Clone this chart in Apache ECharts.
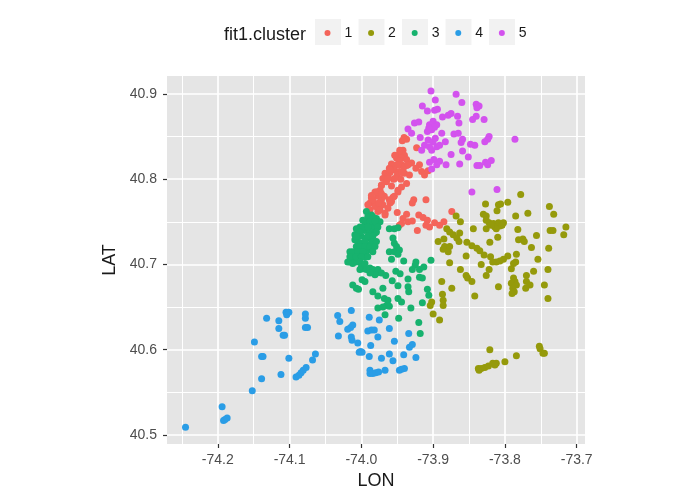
<!DOCTYPE html>
<html><head><meta charset="utf-8">
<style>html,body{margin:0;padding:0;background:#fff}#c{width:695px;height:494px}</style>
<script src="https://cdn.jsdelivr.net/npm/echarts@6/dist/echarts.min.js"></script>
</head><body><div id="c"></div>
<script>
const cluster1 = [[-73.9405,40.849],[-73.937,40.847],[-73.943,40.845],[-73.923,40.837],[-73.942,40.834],[-73.947,40.830],[-73.940,40.828],[-73.951,40.825],[-73.944,40.825],[-73.937,40.823],[-73.958,40.818],[-73.951,40.817],[-73.944,40.817],[-73.937,40.816],[-73.930,40.819],[-73.919,40.817],[-73.924,40.813],[-73.916,40.809],[-73.912,40.805],[-73.907,40.810],[-73.961,40.813],[-73.954,40.811],[-73.947,40.809],[-73.940,40.807],[-73.933,40.805],[-73.967,40.807],[-73.963,40.803],[-73.970,40.801],[-73.965,40.797],[-73.972,40.793],[-73.974,40.787],[-73.981,40.785],[-73.977,40.780],[-73.984,40.774],[-73.988,40.772],[-73.937,40.795],[-73.944,40.791],[-73.949,40.785],[-73.954,40.780],[-73.958,40.774],[-73.950,40.805],[-73.945,40.800],[-73.955,40.800],[-73.960,40.808],[-73.947,40.822],[-73.941,40.814],[-73.9465,40.834],[-73.9535,40.828],[-73.935,40.817],[-73.949,40.817],[-73.960,40.811],[-73.944,40.808],[-73.9535,40.801],[-73.963,40.801],[-73.972,40.793],[-73.958,40.792],[-73.977,40.785],[-73.949,40.787],[-73.956,40.779],[-73.960,40.772],[-73.986,40.778],[-73.972,40.776],[-73.988,40.764],[-73.977,40.762],[-73.967,40.758],[-73.981,40.770],[-73.991,40.770],[-73.974,40.770],[-73.968,40.780],[-73.927,40.776],[-73.929,40.772],[-73.910,40.776],[-73.981,40.768],[-73.974,40.764],[-73.967,40.760],[-73.984,40.776],[-73.970,40.770],[-73.963,40.766],[-73.961,40.776],[-73.979,40.785],[-73.972,40.783],[-73.986,40.781],[-73.976,40.772],[-73.950,40.761],[-73.937,40.759],[-73.942,40.754],[-73.944,40.748],[-73.947,40.746],[-73.935,40.750],[-73.929,40.751],[-73.920,40.758],[-73.914,40.755],[-73.908,40.752],[-73.910,40.746],[-73.905,40.744],[-73.922,40.740],[-73.898,40.749],[-73.891,40.746],[-73.885,40.750],[-73.874,40.762]];
const cluster2 = [[-73.827,40.771],[-73.809,40.770],[-73.806,40.771],[-73.796,40.773],[-73.778,40.782],[-73.811,40.763],[-73.738,40.768],[-73.732,40.759],[-73.785,40.757],[-73.768,40.760],[-73.830,40.759],[-73.826,40.757],[-73.826,40.752],[-73.822,40.749],[-73.816,40.748],[-73.809,40.749],[-73.802,40.749],[-73.807,40.745],[-73.814,40.744],[-73.812,40.742],[-73.826,40.742],[-73.804,40.746],[-73.819,40.746],[-73.844,40.742],[-73.868,40.757],[-73.862,40.750],[-73.881,40.742],[-73.877,40.738],[-73.872,40.735],[-73.863,40.737],[-73.867,40.731],[-73.864,40.727],[-73.893,40.727],[-73.885,40.730],[-73.884,40.721],[-73.877,40.721],[-73.886,40.718],[-73.879,40.715],[-73.853,40.726],[-73.846,40.722],[-73.839,40.719],[-73.835,40.716],[-73.829,40.711],[-73.821,40.726],[-73.810,40.732],[-73.782,40.741],[-73.756,40.734],[-73.737,40.740],[-73.733,40.740],[-73.715,40.744],[-73.718,40.735],[-73.781,40.729],[-73.775,40.730],[-73.773,40.727],[-73.763,40.720],[-73.739,40.719],[-73.854,40.710],[-73.820,40.709],[-73.784,40.712],[-73.796,40.710],[-73.802,40.706],[-73.807,40.704],[-73.812,40.703],[-73.817,40.703],[-73.785,40.703],[-73.788,40.701],[-73.754,40.706],[-73.877,40.702],[-73.833,40.700],[-73.822,40.694],[-73.826,40.687],[-73.791,40.695],[-73.760,40.692],[-73.740,40.694],[-73.862,40.694],[-73.854,40.687],[-73.852,40.684],[-73.846,40.680],[-73.888,40.680],[-73.874,40.672],[-73.842,40.663],[-73.809,40.674],[-73.788,40.684],[-73.786,40.680],[-73.791,40.678],[-73.784,40.676],[-73.789,40.672],[-73.787,40.668],[-73.790,40.666],[-73.770,40.687],[-73.770,40.680],[-73.765,40.676],[-73.771,40.672],[-73.745,40.676],[-73.740,40.660],[-73.887,40.665],[-73.886,40.658],[-73.902,40.656],[-73.904,40.652],[-73.886,40.652],[-73.900,40.642],[-73.891,40.635],[-73.821,40.600],[-73.837,40.578],[-73.833,40.578],[-73.836,40.576],[-73.828,40.579],[-73.823,40.581],[-73.817,40.584],[-73.812,40.584],[-73.814,40.582],[-73.800,40.586],[-73.784,40.593],[-73.752,40.604],[-73.751,40.601],[-73.747,40.596],[-73.745,40.596]];
const cluster3 = [[-73.993,40.762],[-73.986,40.758],[-73.979,40.754],[-73.974,40.750],[-73.998,40.752],[-73.991,40.748],[-73.984,40.744],[-74.002,40.744],[-73.995,40.740],[-73.988,40.738],[-73.981,40.737],[-74.007,40.742],[-74.000,40.733],[-73.993,40.731],[-73.986,40.729],[-74.005,40.727],[-73.998,40.725],[-73.991,40.723],[-73.984,40.721],[-74.007,40.721],[-74.000,40.717],[-73.993,40.715],[-73.986,40.717],[-74.016,40.715],[-74.009,40.711],[-74.002,40.711],[-73.995,40.709],[-74.014,40.705],[-74.007,40.703],[-74.012,40.701],[-74.016,40.703],[-74.009,40.735],[-74.009,40.729],[-74.003,40.737],[-73.991,40.756],[-73.984,40.756],[-73.995,40.750],[-73.988,40.750],[-73.981,40.750],[-73.998,40.744],[-73.991,40.744],[-73.977,40.744],[-74.002,40.738],[-73.979,40.738],[-74.007,40.733],[-73.991,40.733],[-73.984,40.733],[-73.995,40.727],[-73.984,40.727],[-73.979,40.727],[-74.002,40.721],[-73.995,40.721],[-73.988,40.721],[-73.981,40.721],[-74.012,40.715],[-74.005,40.715],[-73.998,40.715],[-73.984,40.715],[-74.016,40.709],[-74.007,40.709],[-74.000,40.709],[-73.991,40.709],[-74.019,40.703],[-74.002,40.703],[-73.998,40.695],[-73.979,40.690],[-73.961,40.742],[-73.954,40.742],[-73.949,40.743],[-73.956,40.731],[-73.954,40.725],[-73.951,40.721],[-73.961,40.715],[-73.954,40.715],[-73.947,40.717],[-73.949,40.712],[-73.958,40.706],[-73.941,40.704],[-73.924,40.703],[-73.903,40.705],[-73.925,40.699],[-73.929,40.694],[-73.919,40.694],[-73.913,40.697],[-74.000,40.697],[-73.995,40.701],[-74.002,40.694],[-73.993,40.694],[-73.988,40.696],[-73.984,40.694],[-73.977,40.694],[-73.972,40.690],[-73.981,40.688],[-73.988,40.690],[-73.966,40.687],[-73.952,40.692],[-73.946,40.689],[-73.957,40.681],[-73.935,40.683],[-73.919,40.685],[-73.915,40.684],[-73.949,40.675],[-73.935,40.674],[-73.934,40.668],[-73.908,40.671],[-73.906,40.664],[-74.012,40.676],[-74.007,40.672],[-74.004,40.671],[-73.999,40.682],[-73.995,40.680],[-73.984,40.668],[-73.977,40.663],[-73.970,40.672],[-73.968,40.660],[-73.963,40.658],[-73.949,40.660],[-73.944,40.656],[-73.965,40.652],[-73.961,40.651],[-73.977,40.649],[-73.970,40.650],[-73.931,40.649],[-73.915,40.655],[-73.967,40.641],[-73.948,40.637],[-73.920,40.632],[-73.918,40.619]];
const cluster4 = [[-74.245,40.509],[-74.194,40.533],[-74.192,40.517],[-74.190,40.518],[-74.187,40.520],[-74.152,40.552],[-74.149,40.609],[-74.139,40.592],[-74.137,40.592],[-74.139,40.566],[-74.132,40.637],[-74.115,40.634],[-74.115,40.625],[-74.109,40.617],[-74.107,40.617],[-74.105,40.644],[-74.101,40.644],[-74.104,40.641],[-74.101,40.590],[-74.112,40.571],[-74.091,40.568],[-74.087,40.570],[-74.084,40.573],[-74.081,40.576],[-74.077,40.579],[-74.078,40.642],[-74.078,40.637],[-74.078,40.626],[-74.075,40.626],[-74.064,40.595],[-74.068,40.588],[-74.033,40.640],[-74.030,40.633],[-74.032,40.616],[-74.014,40.646],[-74.019,40.624],[-74.015,40.626],[-74.012,40.629],[-74.014,40.615],[-74.013,40.611],[-74.005,40.608],[-74.003,40.597],[-73.989,40.638],[-73.975,40.635],[-73.961,40.625],[-73.991,40.622],[-73.986,40.623],[-73.982,40.623],[-73.977,40.615],[-73.987,40.605],[-73.954,40.610],[-73.934,40.619],[-73.933,40.603],[-73.929,40.606],[-74.001,40.598],[-73.999,40.597],[-73.989,40.592],[-73.972,40.590],[-73.961,40.595],[-73.956,40.587],[-73.941,40.594],[-73.924,40.591],[-73.988,40.576],[-73.988,40.572],[-73.984,40.572],[-73.980,40.573],[-73.976,40.574],[-73.967,40.576],[-73.947,40.576],[-73.944,40.577],[-73.940,40.578]];
const cluster5 = [[-73.903,40.9035],[-73.868,40.8996],[-73.897,40.893],[-73.860,40.890],[-73.915,40.886],[-73.908,40.880],[-73.898,40.881],[-73.894,40.882],[-73.840,40.888],[-73.836,40.886],[-73.839,40.884],[-73.887,40.873],[-73.879,40.875],[-73.875,40.877],[-73.866,40.874],[-73.840,40.874],[-73.845,40.870],[-73.829,40.870],[-73.926,40.866],[-73.920,40.867],[-73.935,40.859],[-73.930,40.854],[-73.900,40.868],[-73.905,40.864],[-73.895,40.864],[-73.908,40.856],[-73.902,40.858],[-73.898,40.861],[-73.906,40.860],[-73.864,40.866],[-73.888,40.854],[-73.871,40.853],[-73.865,40.854],[-73.918,40.849],[-73.822,40.850],[-73.824,40.847],[-73.828,40.844],[-73.786,40.847],[-73.859,40.847],[-73.861,40.843],[-73.883,40.844],[-73.907,40.846],[-73.912,40.840],[-73.916,40.834],[-73.900,40.844],[-73.895,40.838],[-73.891,40.840],[-73.902,40.834],[-73.905,40.838],[-73.897,40.848],[-73.848,40.841],[-73.842,40.840],[-73.859,40.833],[-73.875,40.829],[-73.851,40.826],[-73.899,40.823],[-73.905,40.820],[-73.891,40.821],[-73.895,40.817],[-73.902,40.812],[-73.882,40.817],[-73.863,40.818],[-73.839,40.816],[-73.835,40.816],[-73.827,40.820],[-73.819,40.822],[-73.824,40.817],[-73.846,40.785],[-73.811,40.788]];
const seriesNames = ['1','2','3','4','5'];
const seriesValues = [cluster1, cluster2, cluster3, cluster4, cluster5];
const seriesColors = ['#F4645A','#959A0B','#17B26E','#2A9DE6','#D352EE'];
const lonTicks = [-74.2,-74.1,-74.0,-73.9,-73.8,-73.7];
const latTicks = [40.5,40.6,40.7,40.8,40.9];
const lonMinor = [-74.25,-74.15,-74.05,-73.95,-73.85,-73.75];
const latMinor = [40.55,40.65,40.75,40.85];
const legendTitle = 'fit1.cluster';
const FONT = '"Liberation Sans", Arial, sans-serif';

const scatter = seriesNames.map((n, i) => ({
  name: n, type: 'scatter', data: seriesValues[i], symbolSize: 7, z: 3,
  itemStyle: { color: seriesColors[i], opacity: 1 }, silent: true
}));
const minorLines = {
  type: 'scatter', data: [], z: 1, silent: true,
  markLine: {
    silent: true, symbol: 'none', animation: false, z: 1,
    label: { show: false },
    lineStyle: { color: '#fff', width: 1, type: 'solid', opacity: 1 },
    data: lonMinor.map(v => ({ xAxis: v })).concat(latMinor.map(v => ({ yAxis: v })))
  }
};
const keyRects = [315, 358.5, 402, 445.5, 489].map(x => ({
  type: 'rect', shape: { x, y: 19, width: 26, height: 26 },
  style: { fill: '#F2F2F2' }, silent: true, z: 0
}));

const chart = echarts.init(document.getElementById('c'), null, { renderer: 'canvas' });
chart.setOption({
  animation: false,
  backgroundColor: '#fff',
  textStyle: { fontFamily: FONT },
  title: { text: legendTitle, left: 219, top: 21, textStyle: { fontSize: 18, fontWeight: 'normal', color: '#1a1a1a', fontFamily: FONT } },
  legend: {
    data: seriesNames, left: 319.5, top: 21, orient: 'horizontal',
    icon: 'circle', itemWidth: 6, itemHeight: 6, itemGap: 15.8, selectedMode: false,
    textStyle: { fontSize: 14, color: '#1a1a1a', padding: [0, 0, 0, 9], fontFamily: FONT }
  },
  graphic: keyRects,
  grid: { left: 167, top: 76, width: 418, height: 368, show: true, backgroundColor: '#E5E5E5', borderWidth: 0, outerBoundsMode: 'none' },
  xAxis: {
    type: 'value', min: -74.2708, max: -73.6884, name: 'LON', nameLocation: 'middle', nameGap: 27,
    nameTextStyle: { fontSize: 18, color: '#1a1a1a', fontFamily: FONT },
    axisLine: { show: false },
    axisTick: { show: true, length: 4, customValues: lonTicks, lineStyle: { color: '#333', width: 1.2 } },
    axisLabel: { customValues: lonTicks, margin: 9, fontSize: 14, color: '#4D4D4D', fontFamily: FONT, formatter: v => v.toFixed(1), showMinLabel: true, showMaxLabel: true },
    splitLine: { show: true, lineStyle: { color: '#fff', width: 1.7 } }
  },
  yAxis: {
    type: 'value', min: 40.4894, max: 40.9211, name: 'LAT', nameLocation: 'middle', nameGap: 43, nameRotate: 90,
    nameTextStyle: { fontSize: 18, color: '#1a1a1a', fontFamily: FONT },
    axisLine: { show: false },
    axisTick: { show: true, length: 4, customValues: latTicks, lineStyle: { color: '#333', width: 1.2 } },
    axisLabel: { customValues: latTicks, margin: 10, fontSize: 14, color: '#4D4D4D', fontFamily: FONT, formatter: v => v.toFixed(1) },
    splitLine: { show: true, lineStyle: { color: '#fff', width: 1.7 } }
  },
  series: [minorLines].concat(scatter)
});
</script></body></html>
